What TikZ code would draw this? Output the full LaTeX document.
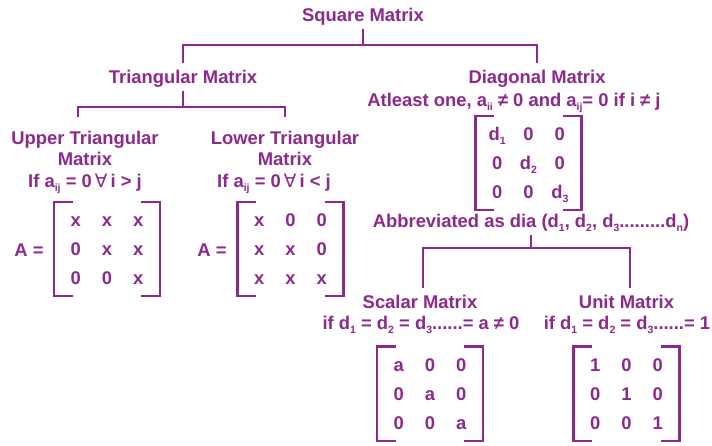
\documentclass[tikz,border=0pt]{standalone}
\usepackage{fontspec}
\setmainfont{Liberation Sans}
\newfontfamily\symf{DejaVu Sans}
\usetikzlibrary{matrix}
\definecolor{mpurple}{RGB}{140,42,140}
\newcommand\sbs[1]{\raisebox{-4pt}{\fontsize{10.5}{10.5}\selectfont #1}}
\newcommand\fa{{\symf\mdseries ∀}}
\tikzset{
  lbl/.style={font=\bfseries\fontsize{18.4}{21.6}\selectfont, text=mpurple, inner sep=0pt, anchor=base},
  hd/.style={lbl, text height=13pt, text depth=0pt, outer ysep=7.5pt},
  two/.style={lbl, align=center, anchor=north, outer ysep=14pt},
  edge/.style={draw=mpurple, line width=2.4pt},
  brk/.style={draw=mpurple, line width=2.4pt},
  cell/.style={font=\bfseries\fontsize{18.4}{21.6}\selectfont, text=mpurple, inner sep=0pt, text height=13pt, text depth=0pt, minimum width=31.3pt, minimum height=29pt},
  mat/.style={matrix of nodes, nodes={cell}, inner xsep=6pt, inner ysep=3.5pt, column sep=0pt, row sep=0pt}
}

\begin{document}
\begin{tikzpicture}[x=1pt, y=-1pt]
\useasboundingbox (0,0) rectangle (712,445);
\fill[white] (0,0) rectangle (712,445);
%
\node[hd] (sq) at (363,21) {Square Matrix};
\node[hd] (tri) at (183,83) {Triangular Matrix};
\node[hd] (dia) at (537,83) {Diagonal Matrix};
\node[lbl] (diacond) at (514,106) {Atleast one, a\sbs{ii} ≠ 0 and a\sbs{ij}= 0 if i ≠ j};
\node[two] (upper) at (85,117) {Upper Triangular\\Matrix\\If a\sbs{ij} = 0\,\fa\,i > j};
\node[two] (lower) at (285,117) {Lower Triangular\\Matrix\\If a\sbs{ij} = 0\,\fa\,i < j\hspace*{22pt}};
\node[hd] (abbr) at (531,227) {Abbreviated as dia (d\sbs{1}, d\sbs{2}, d\sbs{3}.........d\sbs{n})};
\node[hd] (scal) at (420,308) {Scalar Matrix};
\node[lbl] (scalcond) at (421,329) {if d\sbs{1} = d\sbs{2} = d\sbs{3}......= a ≠ 0};
\node[hd] (unit) at (626.5,308) {Unit Matrix};
\node[lbl] (unitcond) at (627,329) {if d\sbs{1} = d\sbs{2} = d\sbs{3}......= 1};
%
\node[lbl] (aup) at (29,256) {A =};
\node[lbl] (alo) at (212,256) {A =};
%
\matrix (up) [mat] at (107,249) {x & x & x\\ 0 & x & x\\ 0 & 0 & x\\};
\matrix (lo) [mat] at (290.5,249) {x & 0 & 0\\ x & x & 0\\ x & x & x\\};
\matrix (dg) [mat] at (528.5,163) {d\sbs{1} & 0 & 0\\ 0 & d\sbs{2} & 0\\ 0 & 0 & d\sbs{3}\\};
\matrix (sc) [mat] at (430,393.5) {a & 0 & 0\\ 0 & a & 0\\ 0 & 0 & a\\};
\matrix (un) [mat] at (626.5,393.5) {1 & 0 & 0\\ 0 & 1 & 0\\ 0 & 0 & 1\\};
%
\foreach \m in {up,lo,dg,sc,un}{
  \draw[brk] ([xshift=19pt]\m.north west) -- (\m.north west) -- (\m.south west) -- ([xshift=19pt]\m.south west);
  \draw[brk] ([xshift=-19pt]\m.north east) -- (\m.north east) -- (\m.south east) -- ([xshift=-19pt]\m.south east);
}
%
\coordinate (j1) at (sq.south |- 0,45);
\coordinate (j2) at (tri.south |- 0,107);
\coordinate (j3) at (abbr.south |- 0,248);
\draw[edge] (sq.south) -- (j1);
\draw[edge] (tri.north) |- (j1) -| (dia.north);
\draw[edge] (tri.south) -- (j2);
\draw[edge] ([xshift=-7pt]upper.north) |- (j2) -| (lower.north);
\draw[edge] (abbr.south) -- (j3);
\draw[edge] ([xshift=3pt]scal.north) |- (j3) -| ([xshift=3.5pt]unit.north);
\end{tikzpicture}
\end{document}
